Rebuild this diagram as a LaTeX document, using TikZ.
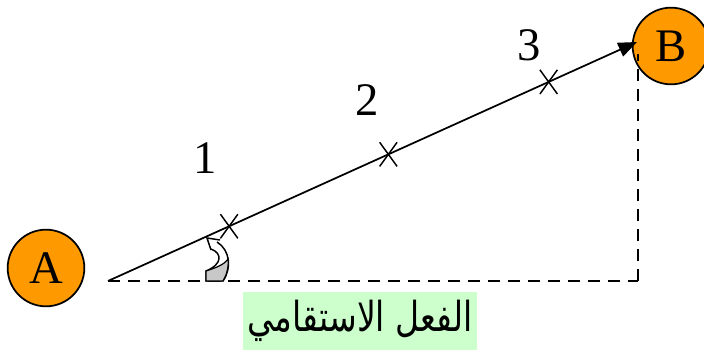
\documentclass[tikz,border=0pt]{standalone}
\usepackage{fontspec}
\setmainfont{Liberation Serif}
\newfontfamily\arabicfont[Script=Arabic]{DejaVu Sans}
\TeXXeTstate=1
\usetikzlibrary{positioning, arrows.meta, shapes.misc}
\definecolor{ballorange}{RGB}{255,153,0}
\definecolor{labelgreen}{RGB}{204,255,204}
\definecolor{twistgray}{RGB}{200,200,200}

\begin{document}
\begin{tikzpicture}[
  x=0.75pt, y=-0.75pt,
  ball/.style={circle, draw=black, line width=1.3pt, fill=ballorange,
               minimum size=57.5pt, inner sep=0pt, font=\fontsize{35}{40}\selectfont},
  tick/.style={cross out, draw=black, line width=1.1pt,
               minimum width=12pt, minimum height=17pt, inner sep=0pt},
  num/.style={font=\fontsize{35}{40}\selectfont, inner sep=0pt},
  guide/.style={line width=1.4pt, dash pattern=on 9pt off 6pt},
  arr/.style={-{Triangle[length=14pt, width=11pt]}, line width=1.3pt},
]
  \useasboundingbox (0,0) rectangle (704,353);

  \node[ball] (A) at (46,268) {A};
  \node[ball] (B) at (671,46) {B};

  \coordinate (O) at (108,281);
  \coordinate (C) at (638,281);
  \coordinate (V) at (638,54);
  \coordinate (T) at (637,42);

  % guides
  \draw[guide] (O) -- (C);
  \draw[guide] (C) -- (V);

  % motion
  \draw[arr] (O) -- (T);
  \path (O) -- (T)
    node[tick, pos=.229] (m1) {}
    node[tick, pos=.530] (m2) {}
    node[tick, pos=.833] (m3) {};

  \node[num] (n1) at (205,158) {1};
  \node[num] (n2) at (367,100) {2};
  \node[num] (n3) at (529,45) {3};

  % angle arrow
  \draw[line width=1.1pt, fill=white]
    (211,249) .. controls (222,253) and (223,264) .. (206,271) -- (206,281)
    -- (223,281) .. controls (232,268) and (230,250) .. (217,242);
  \fill[twistgray, draw=black, line width=0.9pt]
    (206,281) -- (206,271) .. controls (215,268) and (224,265) .. (228,259)
    .. controls (229,268) and (226,276) .. (223,281) -- cycle;
  \draw[line width=1.1pt] (211,250) -- (207,238) -- (220,240);

  \node[fill=labelgreen, minimum width=175pt, minimum height=43pt, inner sep=2pt]
    (act) at (360,321) {\scalebox{0.8}[1]{\arabicfont\fontsize{31}{33}\selectfont\beginR الفعل الاستقامي\endR}};
\end{tikzpicture}
\end{document}
